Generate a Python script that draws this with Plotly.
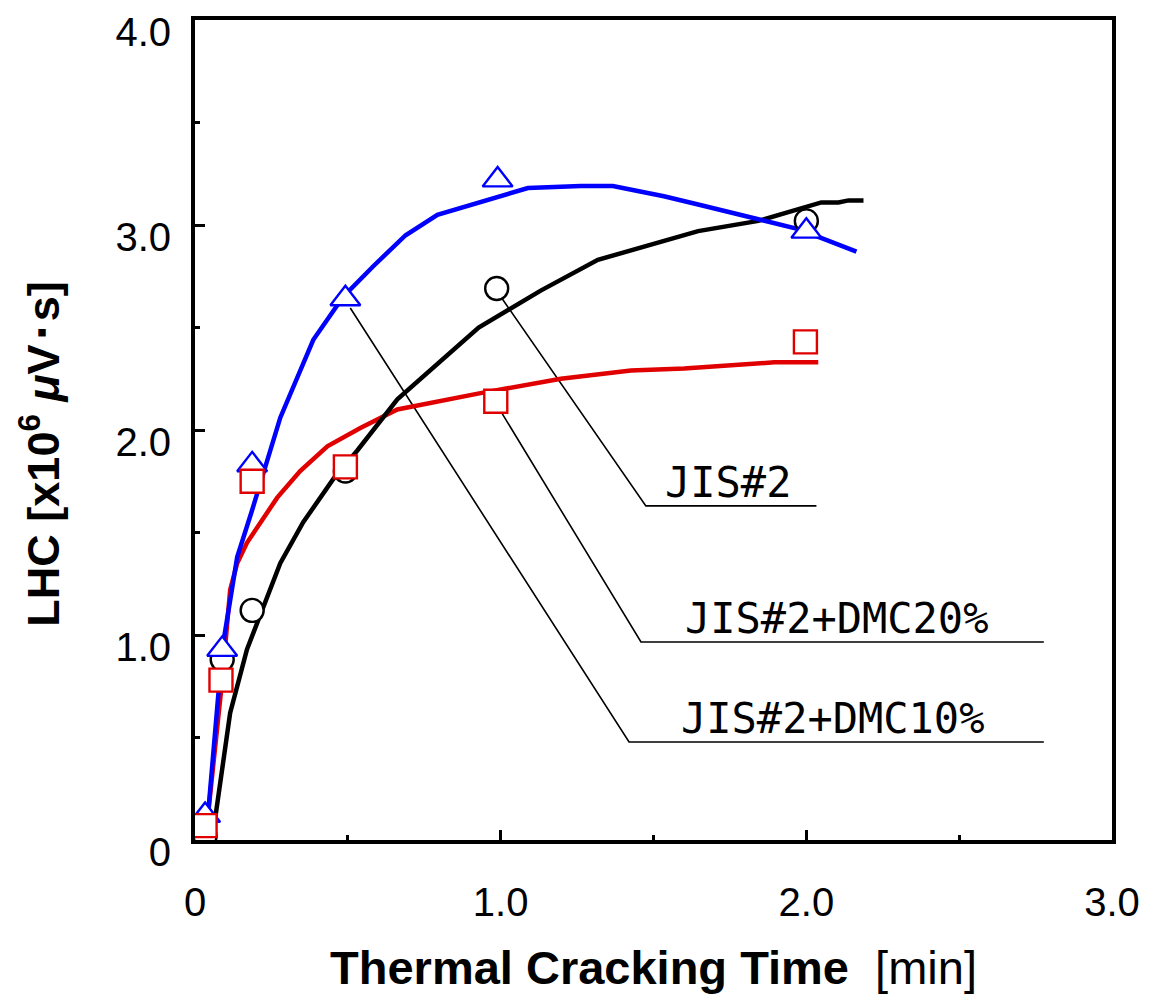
import plotly.graph_objects as go

# ---- curve data ----
jis_line_x = [0.056, 0.115, 0.170, 0.279, 0.354, 0.452, 0.531, 0.662, 0.928, 1.131, 1.318, 1.646, 1.843, 2.049, 2.105, 2.138, 2.187]
jis_line_y = [0.00, 0.62, 0.93, 1.35, 1.55, 1.76, 1.90, 2.15, 2.50, 2.68, 2.83, 2.97, 3.02, 3.11, 3.11, 3.12, 3.12]

dmc10_line_x = [0.043, 0.089, 0.138, 0.187, 0.279, 0.387, 0.485, 0.584, 0.689, 0.793, 1.089, 1.262, 1.367, 1.534, 1.646, 1.974, 2.164]
dmc10_line_y = [0.13, 0.93, 1.38, 1.61, 2.06, 2.44, 2.65, 2.80, 2.95, 3.05, 3.18, 3.19, 3.19, 3.14, 3.10, 2.98, 2.87]

dmc20_line_x = [0.039, 0.089, 0.115, 0.138, 0.170, 0.269, 0.344, 0.433, 0.541, 0.662, 0.934, 1.197, 1.426, 1.600, 1.895, 2.039]
dmc20_line_y = [0.07, 0.78, 1.22, 1.35, 1.45, 1.67, 1.80, 1.92, 2.01, 2.10, 2.18, 2.25, 2.29, 2.30, 2.33, 2.33]

# ---- measured points ----
jis_pt_x = [0.033, 0.089, 0.187, 0.492, 0.987, 2.00]
jis_pt_y = [0.02, 0.88, 1.12, 1.80, 2.69, 3.02]

dmc10_pt_x = [0.033, 0.089, 0.187, 0.492, 0.990, 2.00]
dmc10_pt_y = [0.12, 0.93, 1.83, 2.64, 3.22, 2.97]

dmc20_pt_x = [0.033, 0.085, 0.187, 0.492, 0.984, 1.997]
dmc20_pt_y = [0.07, 0.78, 1.75, 1.82, 2.14, 2.43]

# ---- axis ticks ----
x_tickvals = [0, 1, 2, 3]
x_ticktext = ["0", "1.0", "2.0", "3.0"]
y_tickvals = [0, 1, 2, 3, 4]
y_ticktext = ["0", "1.0", "2.0", "3.0", "4.0"]

# ---- labels with leader lines ----
label_texts = ["JIS#2", "JIS#2+DMC20%", "JIS#2+DMC10%"]
label_x = [1.745, 2.10, 2.085]
label_y = [1.745, 1.08, 0.595]
leader_x = [[1.005, 1.475, 2.033], [1.005, 1.459, 2.777], [0.508, 1.420, 2.777]]
leader_y = [[2.64, 1.63, 1.63], [2.08, 0.966, 0.966], [2.595, 0.478, 0.478]]

BLUE = "#0000ff"
RED = "#e00000"
BLACK = "#000000"

fig = go.Figure()

# leader lines
for lx, ly in zip(leader_x, leader_y):
    fig.add_trace(go.Scatter(x=lx, y=ly, mode="lines",
                             line=dict(color=BLACK, width=1.6),
                             showlegend=False, hoverinfo="skip"))

# curves
fig.add_trace(go.Scatter(x=dmc20_line_x, y=dmc20_line_y, mode="lines",
                         line=dict(color=RED, width=4.5), showlegend=False))
fig.add_trace(go.Scatter(x=jis_line_x, y=jis_line_y, mode="lines",
                         line=dict(color=BLACK, width=4.5), showlegend=False))
fig.add_trace(go.Scatter(x=dmc10_line_x, y=dmc10_line_y, mode="lines",
                         line=dict(color=BLUE, width=4.5), showlegend=False))

# markers
fig.add_trace(go.Scatter(x=jis_pt_x, y=jis_pt_y, mode="markers", name="JIS#2",
                         marker=dict(symbol="circle", size=23, color="white",
                                     line=dict(color=BLACK, width=2.4)),
                         showlegend=False))
fig.add_trace(go.Scatter(x=dmc10_pt_x, y=dmc10_pt_y, mode="markers", name="JIS#2+DMC10%",
                         marker=dict(symbol="triangle-up", size=26, color="white",
                                     line=dict(color=BLUE, width=2.4)),
                         showlegend=False))
fig.add_trace(go.Scatter(x=dmc20_pt_x, y=dmc20_pt_y, mode="markers", name="JIS#2+DMC20%",
                         marker=dict(symbol="square", size=23, color="white",
                                     line=dict(color=RED, width=2.4)),
                         showlegend=False))

for t, x, y in zip(label_texts, label_x, label_y):
    fig.add_annotation(x=x, y=y, xref="x", yref="y", text=t, showarrow=False,
                       font=dict(family="DejaVu Sans Mono", size=42, color=BLACK),
                       xanchor="center", yanchor="middle")

# y-axis title (placed as rotated annotation so it can sit off-centre like the original)
fig.add_annotation(x=-0.169, y=0.47, xref="paper", yref="paper",
                   text="<b>LHC [x10<sup>6</sup> <i>μ</i>V･s]</b>",
                   textangle=-90, showarrow=False,
                   font=dict(family="Liberation Sans, Arial, sans-serif", size=45, color=BLACK),
                   xanchor="center", yanchor="middle")

tick_font = dict(family="Liberation Sans, Arial, sans-serif", size=40, color=BLACK)

fig.update_xaxes(
    range=[0, 3], tickvals=x_tickvals, ticktext=x_ticktext,
    showline=True, linewidth=4, linecolor=BLACK, mirror=True,
    ticks="inside", ticklen=10, tickwidth=3, tickcolor=BLACK,
    minor=dict(ticks="inside", dtick=0.5, ticklen=5, tickwidth=3, tickcolor=BLACK),
    showgrid=False, zeroline=False, tickfont=tick_font, ticklabelstandoff=24,
    automargin=False,
    title=dict(text="<b>Thermal Cracking Time</b>  [min]",
               font=dict(family="Liberation Sans, Arial, sans-serif", size=47, color=BLACK),
               standoff=40),
)
fig.update_yaxes(
    range=[0, 4], tickvals=y_tickvals, ticktext=y_ticktext,
    showline=True, linewidth=4, linecolor=BLACK, mirror=True,
    ticks="inside", ticklen=10, tickwidth=3, tickcolor=BLACK,
    minor=dict(ticks="inside", dtick=0.5, ticklen=5, tickwidth=3, tickcolor=BLACK),
    showgrid=False, zeroline=False, tickfont=tick_font, ticklabelstandoff=12,
    ticklabelshift=12, automargin=False,
)

fig.update_layout(
    width=1150, height=994,
    margin=dict(l=195, r=38, t=20, b=154),
    plot_bgcolor="white", paper_bgcolor="white",
    showlegend=False,
)

fig.write_html("out.html")
